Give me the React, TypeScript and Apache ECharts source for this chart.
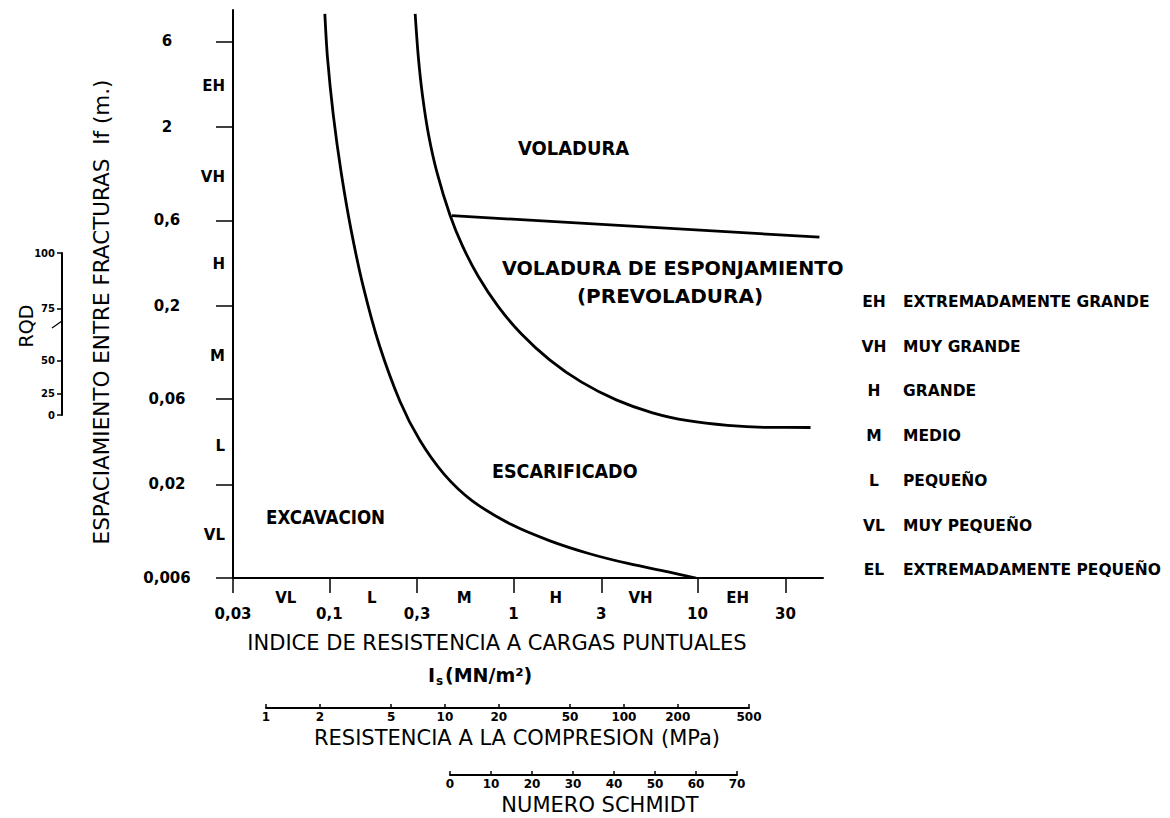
import React, { useEffect, useRef } from 'react';
import * as echarts from 'echarts';

// ---------- data ----------
const xTicks = [0.03, 0.1, 0.3, 1, 3, 10, 30];
const yTicks = [6, 2, 0.6, 0.2, 0.06, 0.02, 0.006];
const xBandNames = ['VL', 'L', 'M', 'H', 'VH', 'EH'];
const xBandPos = [0.058, 0.17, 0.54, 1.7, 4.9, 16.5];
const yBandNames = ['EH', 'VH', 'H', 'M', 'L', 'VL'];
const yBandPos = [3.4, 1.05, 0.34, 0.105, 0.033, 0.0105];

// excavation / ripping boundary
const c1X = [0.0946, 0.0978, 0.1052, 0.1161, 0.1314, 0.1533, 0.1867, 0.2426, 0.3097, 0.4198, 0.5954, 0.97, 1.58, 2.592, 4.241, 6.936, 9.806];
const c1Y = [8.557, 4.852, 2.318, 1.107, 0.5289, 0.2528, 0.1209, 0.05803, 0.03542, 0.02287, 0.01627, 0.01197, 0.00968, 0.0082, 0.00721, 0.00649, 0.006];
// ripping / blasting boundary
const c2X = [0.2927, 0.3048, 0.3211, 0.3458, 0.3847, 0.4523, 0.5273, 0.6425, 0.8256, 1.1024, 1.5731, 2.3457, 3.6433, 5.697, 8.877, 14.56, 23.85, 41.07];
const c2Y = [8.557, 4.855, 2.967, 1.813, 1.109, 0.6425, 0.4345, 0.293, 0.1981, 0.1393, 0.09956, 0.07469, 0.05926, 0.05033, 0.04546, 0.04281, 0.04173, 0.04166];
// blasting / pre-blasting boundary
const l3X = [0.463, 45.9];
const l3Y = [0.637, 0.483];

const ucsTicks = [1, 2, 5, 10, 20, 50, 100, 200, 500];
const schmidtTicks = [0, 10, 20, 30, 40, 50, 60, 70];
const rqdTicks = [0, 25, 50, 75, 100];
const rqdSpacing = [0.0488, 0.064, 0.0978, 0.191, 0.3925];

const legendAbbr = ['EH', 'VH', 'H', 'M', 'L', 'VL', 'EL'];
const legendText = ['EXTREMADAMENTE GRANDE', 'MUY GRANDE', 'GRANDE', 'MEDIO', 'PEQUEÑO', 'MUY PEQUEÑO', 'EXTREMADAMENTE PEQUEÑO'];
const regionLabels = ['VOLADURA', 'VOLADURA DE ESPONJAMIENTO', '(PREVOLADURA)', 'ESCARIFICADO', 'EXCAVACION'];

const X_MIN = 0.03, X_MAX = 48, Y_MIN = 0.006, Y_MAX = 9;

// ---------- helpers ----------
const FONT = '"DejaVu Sans", sans-serif';
const lg = Math.log10;
const near = (a: number, b: number) => Math.abs(a - b) < 1e-6;
const fmtFrom = (vals: number[], names?: (string | number)[]) => (v: number) => {
  const i = vals.findIndex((t) => near(lg(t), v));
  if (i < 0) return '';
  const out = names ? names[i] : vals[i];
  return String(out).replace('.', ',');
};

const txt = (text: string, x: number, y: number, o: any = {}) => ({
  type: 'text',
  x, y,
  rotation: o.rotation || 0,
  scaleX: o.scaleX || 1,
  silent: true,
  style: {
    text,
    fill: '#000',
    fontFamily: FONT,
    fontSize: o.size || 16,
    fontWeight: o.weight || 'normal',
    align: o.align || 'left',
    textAlign: o.align || 'left',
    verticalAlign: 'middle',
    textVerticalAlign: 'middle',
  },
});

export default function App() {
  const ref = useRef<HTMLDivElement>(null);
  useEffect(() => {
    document.body.style.margin = '0';
    document.body.style.background = '#fff';
    const chart = echarts.init(ref.current!, null, { renderer: 'svg' });
    const black = '#000';
    const tickLabel = { color: black, fontFamily: FONT, fontWeight: 'bold' as const };
    const lineSeries = (xs: number[], ys: number[], smooth: number) => ({
      type: 'line',
      xAxisIndex: 0,
      yAxisIndex: 0,
      data: xs.map((x, i) => [lg(x), lg(ys[i])]),
      smooth,
      symbol: 'none',
      silent: true,
      lineStyle: { color: black, width: 2.8 },
    });

    const graphic: any[] = [];
    // axis titles
    graphic.push(txt('ESPACIAMIENTO ENTRE FRACTURAS  If (m.)', 101, 312, { size: 21.5, align: 'center', rotation: Math.PI / 2 }));
    graphic.push(txt('RQD', 26, 326, { size: 19, align: 'center', rotation: Math.PI / 2 }));
    graphic.push(txt('INDICE DE RESISTENCIA A CARGAS PUNTUALES', 497, 643, { size: 21, align: 'center' }));
    graphic.push(txt('I', 428, 675, { size: 19, weight: 'bold' }));
    graphic.push(txt('s', 436, 681, { size: 12, weight: 'bold' }));
    graphic.push(txt('(MN/m²)', 445, 675, { size: 19, weight: 'bold' }));
    graphic.push(txt('RESISTENCIA A LA COMPRESION (MPa)', 517, 738, { size: 21, align: 'center' }));
    graphic.push(txt('NUMERO SCHMIDT', 600, 805, { size: 21, align: 'center' }));
    // region labels
    graphic.push(txt(regionLabels[0], 518, 148, { size: 19.5, weight: 'bold', scaleX: 0.92 }));
    graphic.push(txt(regionLabels[1], 502, 268, { size: 20, weight: 'bold', scaleX: 0.96 }));
    graphic.push(txt(regionLabels[2], 670, 296, { size: 20, weight: 'bold', align: 'center' }));
    graphic.push(txt(regionLabels[3], 492, 471, { size: 19.5, weight: 'bold', scaleX: 0.9 }));
    graphic.push(txt(regionLabels[4], 266, 517, { size: 19, weight: 'bold', scaleX: 0.88 }));
    // legend
    legendAbbr.forEach((a, i) => {
      const y = 302 + i * 44.7;
      graphic.push(txt(a, 874, y, { size: 15.5, weight: 'bold', align: 'center' }));
      graphic.push(txt(legendText[i], 903, y, { size: 15.5, weight: 'bold' }));
    });
    // small mark on RQD scale
    graphic.push({ type: 'line', silent: true, shape: { x1: 52, y1: 328, x2: 62, y2: 321 }, style: { stroke: black, lineWidth: 1.2 } });

    const hiddenAxis = (gridIndex: number) => ({ gridIndex, type: 'value', show: false, min: 0, max: 1 });

    chart.setOption({
      animation: false,
      backgroundColor: '#fff',
      grid: [
        { left: 233, top: 10, width: 590, height: 568, containLabel: false, outerBoundsMode: 'none' },
        { left: 266, top: 700, width: 483, height: 8, containLabel: false, outerBoundsMode: 'none' },
        { left: 450, top: 767, width: 287, height: 8, containLabel: false, outerBoundsMode: 'none' },
        { left: 62, top: 253, width: 10, height: 162, containLabel: false, outerBoundsMode: 'none' },
      ],
      xAxis: [
        {
          gridIndex: 0, type: 'value', position: 'bottom', min: lg(X_MIN), max: lg(X_MAX),
          axisLine: { show: true, onZero: false, lineStyle: { color: black, width: 2 } },
          axisTick: { show: true, customValues: xTicks.map(lg), length: 15, lineStyle: { color: black, width: 1.5 } },
          axisLabel: { ...tickLabel, customValues: xTicks.map(lg), formatter: fmtFrom(xTicks), margin: 28, fontSize: 15 },
          splitLine: { show: false },
        },
        {
          gridIndex: 0, type: 'value', position: 'bottom', min: lg(X_MIN), max: lg(X_MAX),
          axisLine: { show: false }, axisTick: { show: false }, splitLine: { show: false },
          axisLabel: { ...tickLabel, customValues: xBandPos.map(lg), formatter: fmtFrom(xBandPos, xBandNames), margin: 12, fontSize: 15 },
        },
        {
          gridIndex: 1, type: 'value', position: 'bottom', min: 0, max: lg(500),
          axisLine: { show: true, onZero: false, lineStyle: { color: black, width: 2 } },
          axisTick: { show: true, inside: true, customValues: ucsTicks.map(lg), length: 4, lineStyle: { color: black, width: 1.5 } },
          axisLabel: { ...tickLabel, customValues: ucsTicks.map(lg), formatter: fmtFrom(ucsTicks), margin: 3, fontSize: 12 },
          splitLine: { show: false },
        },
        {
          gridIndex: 2, type: 'value', position: 'bottom', min: 0, max: 70, interval: 10,
          axisLine: { show: true, onZero: false, lineStyle: { color: black, width: 2 } },
          axisTick: { show: true, inside: true, length: 4, lineStyle: { color: black, width: 1.5 } },
          axisLabel: { ...tickLabel, margin: 3, fontSize: 12, formatter: (v: number) => (schmidtTicks.includes(v) ? String(v) : '') },
          splitLine: { show: false },
        },
        hiddenAxis(3),
      ],
      yAxis: [
        {
          gridIndex: 0, type: 'value', position: 'left', min: lg(Y_MIN), max: lg(Y_MAX),
          axisLine: { show: true, onZero: false, lineStyle: { color: black, width: 2 } },
          axisTick: { show: true, customValues: yTicks.map(lg), length: 17, lineStyle: { color: black, width: 1.5 } },
          axisLabel: { ...tickLabel, customValues: yTicks.map(lg), formatter: fmtFrom(yTicks), margin: 66, align: 'center', fontSize: 15 },
          splitLine: { show: false },
        },
        {
          gridIndex: 0, type: 'value', position: 'left', min: lg(Y_MIN), max: lg(Y_MAX),
          axisLine: { show: false }, axisTick: { show: false }, splitLine: { show: false },
          axisLabel: { ...tickLabel, customValues: yBandPos.map(lg), formatter: fmtFrom(yBandPos, yBandNames), margin: 8, fontSize: 15 },
        },
        hiddenAxis(1),
        hiddenAxis(2),
        {
          gridIndex: 3, type: 'value', position: 'left', min: lg(rqdSpacing[0]), max: lg(rqdSpacing[rqdSpacing.length - 1]),
          axisLine: { show: true, onZero: false, lineStyle: { color: black, width: 2 } },
          axisTick: { show: true, customValues: rqdSpacing.map(lg), length: 5, lineStyle: { color: black, width: 1.5 } },
          axisLabel: { ...tickLabel, customValues: rqdSpacing.map(lg), formatter: fmtFrom(rqdSpacing, rqdTicks), margin: 7, fontSize: 10 },
          splitLine: { show: false },
        },
      ],
      series: [
        lineSeries(c1X, c1Y, 0.3),
        lineSeries(c2X, c2Y, 0.3),
        lineSeries(l3X, l3Y, 0),
      ],
      graphic,
    });
    return () => chart.dispose();
  }, []);
  return <div ref={ref} style={{ width: 1170, height: 818 }} />;
}
